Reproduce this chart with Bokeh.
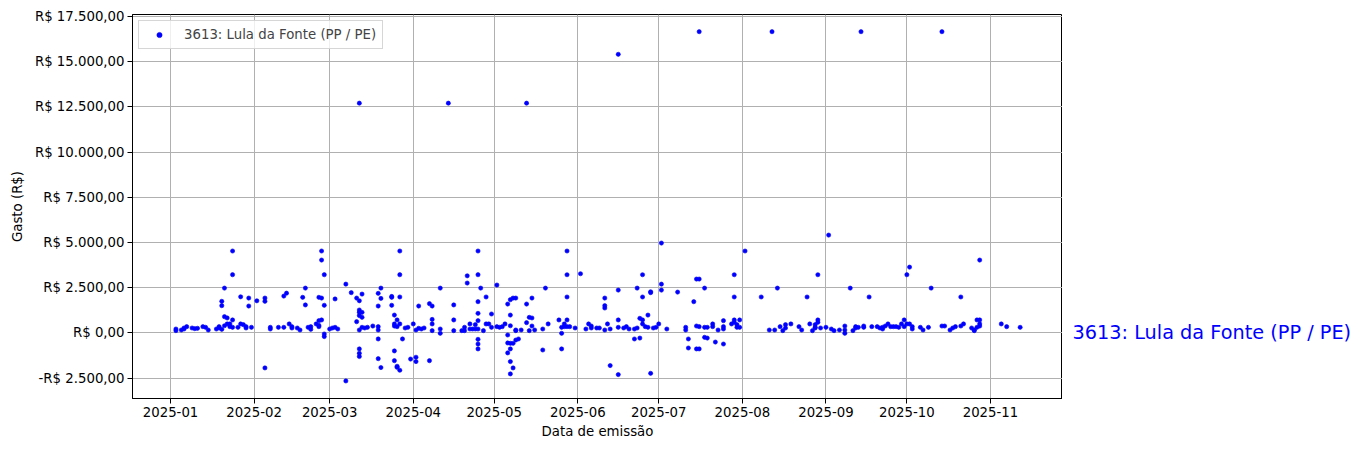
import pandas as pd
from bokeh.plotting import figure
from bokeh.layouts import row
from bokeh.models import (Range1d, FixedTicker, CustomJSTickFormatter, Legend,
                          LegendItem)
from bokeh.core.properties import value
from bokeh.embed import file_html
from bokeh.resources import INLINE

ANO = "2025"
SERIE = "3613: Lula da Fonte (PP / PE)"

jan_d = ["01-03", "01-03", "01-05", "01-06", "01-06", "01-07", "01-09", "01-10", "01-11", "01-13",
         "01-14", "01-15", "01-18", "01-19", "01-19", "01-20", "01-20", "01-20", "01-21", "01-21",
         "01-21", "01-22", "01-22", "01-23", "01-23", "01-24", "01-24", "01-24", "01-24", "01-26",
         "01-27", "01-27", "01-28", "01-29", "01-29", "01-30", "01-30", "01-31"]
jan_v = [220, 130, 165, 220, 276, 350, 276, 240, 258, 350,
         313, 165, 220, 276, 350, 200, 1510, 1750, 2480, 900,
         400, 830, 500, 500, 350, 720, 4530, 3220, 313, 313,
         2000, 500, 460, 350, 276, 1930, 1490, 313]

fev_d = ["02-02", "02-05", "02-05", "02-05", "02-07", "02-07", "02-10", "02-12", "02-12", "02-13",
         "02-14", "02-15", "02-15", "02-17", "02-18", "02-19", "02-20", "02-20", "02-21", "02-22",
         "02-22", "02-24", "02-25", "02-25", "02-25", "02-25", "02-26", "02-26", "02-26", "02-26",
         "02-27", "02-27", "02-27", "02-27"]
fev_v = [1780, 1930, 1750, -1930, 313, 220, 313, 313, 2040, 2200,
         500, 276, 350, 276, 165, 1970, 2480, 1550, 313, 200,
         350, 500, 350, 420, 680, 1970, 4530, 4030, 1930, 720,
         3220, 1530, -55, -200]

mar_d = ["03-01", "03-02", "03-03", "03-04", "03-03", "03-07", "03-07", "03-09", "03-11", "03-11",
         "03-12", "03-12", "03-12", "03-12", "03-12", "03-12", "03-12", "03-12", "03-12", "03-13",
         "03-13", "03-13", "03-13", "03-14", "03-15", "03-17", "03-19", "03-19", "03-19", "03-19",
         "03-19", "03-19", "03-20", "03-20", "03-20", "03-24", "03-24", "03-24", "03-25", "03-25",
         "03-25", "03-25", "03-25", "03-26", "03-26", "03-26", "03-26", "03-27", "03-27", "03-27",
         "03-27", "03-27", "03-28", "03-29", "03-30", "03-31"]
mar_v = [220, 276, 313, 220, 1880, 2700, -2650, 2230, 625, 1930,
         12700, 1780, 1270, 1140, 960, 165, -880, -1120, -1300, 865,
         1140, 2150, 313, 276, 313, 385, 350, 165, -330, -1420,
         1490, 2190, -1910, 2480, 1910, 1970, 2020, 1530, 990, 500,
         385, -990, -1530, 350, 720, -1840, -1900, 500, 4530, 3220,
         1990, -2060, -330, 276, 313, -1440]

abr_d = ["04-01", "04-02", "04-02", "04-02", "04-03", "04-03", "04-04", "04-05", "04-07", "04-07",
         "04-08", "04-08", "04-08", "04-08", "04-11", "04-11", "04-11", "04-14", "04-16", "04-16",
         "04-16", "04-19", "04-20", "04-20", "04-21", "04-21", "04-22", "04-22", "04-23", "04-24",
         "04-24", "04-25", "04-25", "04-25", "04-25", "04-25", "04-25", "04-25", "04-25", "04-25",
         "04-26", "04-27", "04-28", "04-28", "04-29", "04-30", "04-30"]
abr_v = [500, 165, -1340, -1580, 1490, 258, 220, 276, 1620, -1530,
         1490, 750, 500, 130, 220, -18, 2480, 12700, 1550, 720,
         130, 130, 130, 313, 2760, 3160, 500, 220, 220, 460,
         220, 680, 4530, 3220, -610, -350, 1085, 1730, -880, 220,
         2480, 130, 1990, 500, 500, 1050, 313]

mai_d = ["05-02", "05-02", "05-03", "05-04", "05-05", "05-06", "05-06", "05-06", "05-06", "05-07",
         "05-07", "05-07", "05-07", "05-07", "05-07", "05-07", "05-08", "05-08", "05-08", "05-09",
         "05-09", "05-09", "05-09", "05-10", "05-11", "05-13", "05-13", "05-13", "05-14", "05-14",
         "05-15", "05-15", "05-15", "05-16", "05-19", "05-19", "05-20", "05-21", "05-25", "05-26",
         "05-26", "05-26", "05-27", "05-27", "05-28", "05-28", "05-28", "05-28", "05-28", "05-29",
         "05-31"]
mai_v = [2650, 350, 313, 350, 500, 1600, -110, -550, -1100, 1840,
         990, 400, -570, -1580, -2260, -880, 1930, -570, -1930, -390,
         130, 1930, 165, -330, 165, 12700, 1600, 570, 865, 130,
         1930, 830, 385, 165, 220, -940, 2480, 500, 720, 313,
         -18, -880, 500, 350, 720, 4530, 3220, 1990, 350, 350,
         276]

jun_d = ["06-02", "06-04", "06-05", "06-06", "06-06", "06-08", "06-09", "06-11", "06-11", "06-11",
         "06-11", "06-12", "06-13", "06-13", "06-16", "06-16", "06-16", "06-16", "06-16", "06-18",
         "06-19", "06-20", "06-22", "06-22", "06-23", "06-23", "06-24", "06-24", "06-25", "06-25",
         "06-25", "06-25", "06-26", "06-27", "06-27", "06-28", "06-28", "06-28", "06-29", "06-30"]
jun_v = [3275, 220, 500, 385, 276, 276, 276, 1930, 1510, 1380,
         165, 500, 220, -1800, 15400, 720, 2370, 313, -2300, 276,
         350, 220, -330, 220, 2480, 276, 810, -280, 720, 3220,
         1990, 500, 350, 990, 313, 2230, 2280, -2230, 276, 313]

jul_d = ["07-01", "07-02", "07-02", "07-02", "07-04", "07-08", "07-11", "07-11", "07-12", "07-12",
         "07-14", "07-15", "07-15", "07-15", "07-16", "07-16", "07-16", "07-16", "07-18", "07-18",
         "07-18", "07-19", "07-19", "07-21", "07-21", "07-22", "07-23", "07-25", "07-25", "07-25",
         "07-25", "07-28", "07-29", "07-29", "07-29", "07-29", "07-30", "07-30", "07-31", "07-31"]
jul_v = [500, 4970, 2700, 2370, 220, 2260, 313, 165, -330, -830,
         1730, 2980, -880, 385, 2980, -880, 350, 16650, 2480, -240,
         313, 313, -280, 500, 350, -500, 165, 350, 680, -610,
         220, 500, 590, 3220, 1990, 720, 313, 460, 720, 313]

ago_d = ["08-02", "08-08", "08-11", "08-12", "08-13", "08-14", "08-15", "08-16", "08-17", "08-17",
         "08-19", "08-22", "08-23", "08-25", "08-26", "08-27", "08-28", "08-28", "08-28", "08-29",
         "08-29", "08-29", "08-30"]
ago_v = [4530, 1990, 165, 16650, 165, 2480, 350, 130, 460, 276,
         500, 350, 165, 1990, 500, 130, 276, 460, 313, 590,
         3220, 720, 276]

set_d = ["09-01", "09-02", "09-03", "09-04", "09-06", "09-08", "09-08", "09-08", "09-10", "09-11",
         "09-12", "09-12", "09-13", "09-14", "09-15", "09-15", "09-17", "09-18", "09-20", "09-21",
         "09-22", "09-22", "09-23", "09-24", "09-25", "09-26", "09-27", "09-28", "09-29", "09-30",
         "09-30"]
set_v = [313, 5410, 220, 130, 165, 385, -18, 165, 2480, 130,
         276, 350, 313, 16650, 385, 313, 1990, 350, 350, 276,
         220, 313, 385, 500, 350, 350, 350, 313, 500, 720,
         350]

out_d = ["10-01", "10-01", "10-02", "10-02", "10-03", "10-03", "10-06", "10-07", "10-09", "10-10",
         "10-14", "10-14", "10-15", "10-17", "10-18", "10-19", "10-21", "10-21", "10-22", "10-25",
         "10-26", "10-26", "10-27", "10-27", "10-28", "10-28", "10-28", "10-28"]
out_v = [500, 3220, 3640, 500, 350, 220, 313, 165, 313, 2480,
         385, 16650, 385, 165, 276, 350, 1990, 385, 500, 276,
         165, 130, 313, 720, 720, 500, 385, 4030]

nov_d = ["11-05", "11-07", "11-12"]
nov_v = [500, 350, 313]

y_ticks = [-2500, 0, 2500, 5000, 7500, 10000, 12500, 15000, 17500]
x_ticks = ["2025-01-01", "2025-02-01", "2025-03-01", "2025-04-01", "2025-05-01", "2025-06-01",
           "2025-07-01", "2025-08-01", "2025-09-01", "2025-10-01", "2025-11-01"]

dias = jan_d + fev_d + mar_d + abr_d + mai_d + jun_d + jul_d + ago_d + set_d + out_d + nov_d
valores = jan_v + fev_v + mar_v + abr_v + mai_v + jun_v + jul_v + ago_v + set_v + out_v + nov_v
datas = pd.to_datetime([ANO + "-" + d for d in dias])

x0 = pd.Timestamp("2025-01-01") - pd.Timedelta(days=14.1)
x1 = pd.Timestamp("2025-01-01") + pd.Timedelta(days=330.7)

FONT = "DejaVu Sans"
TOP, FH, BOT = 14, 384, 50

p = figure(x_axis_type="datetime", output_backend="svg", toolbar_location=None,
           frame_width=930, frame_height=FH,
           min_border_left=132, min_border_right=0, min_border_top=TOP, min_border_bottom=BOT,
           x_range=Range1d(x0, x1), y_range=Range1d(-3620, 17600))
p.background_fill_color = "white"
p.border_fill_color = "white"
p.outline_line_color = "black"
p.outline_line_width = 1

r = p.scatter(x=datas, y=valores, size=4.2, color="blue", line_color="blue", line_width=0.6)

p.xaxis.ticker = FixedTicker(ticks=[pd.Timestamp(t).value // 10**6 for t in x_ticks])
p.xaxis.formatter = CustomJSTickFormatter(code="""
const d = new Date(tick);
return d.getUTCFullYear() + '-' + String(d.getUTCMonth() + 1).padStart(2, '0');
""")
p.yaxis.ticker = FixedTicker(ticks=y_ticks)
p.yaxis.formatter = CustomJSTickFormatter(code="""
const neg = tick < 0;
const s = Math.abs(tick).toFixed(2).split('.');
const i = s[0].replace(/\\B(?=(\\d{3})+(?!\\d))/g, '.');
return (neg ? '-' : '') + 'R$ ' + i + ',' + s[1];
""")

for ax in (p.xaxis[0], p.yaxis[0]):
    ax.major_label_text_font = FONT
    ax.major_label_text_font_size = "13.3px"
    ax.major_label_text_color = "black"
    ax.axis_label_text_font = FONT
    ax.axis_label_text_font_size = "13.3px"
    ax.axis_label_text_font_style = "normal"
    ax.axis_label_text_color = "black"
    ax.axis_line_color = "black"
    ax.major_tick_line_color = "black"
    ax.major_tick_out = 5
    ax.major_tick_in = 0
    ax.minor_tick_line_color = None
    ax.major_label_standoff = 3

p.xaxis.axis_label = "Data de emissão"
p.yaxis.axis_label = "Gasto (R$)"
p.xaxis.axis_label_standoff = 4
p.yaxis.axis_label_standoff = 7

p.grid.grid_line_color = "#b0b0b0"
p.grid.grid_line_width = 1

legend = Legend(items=[LegendItem(label=SERIE, renderers=[r])], location="top_left")
legend.label_text_font = FONT
legend.label_text_font_size = "13.3px"
legend.padding = 6
legend.margin = 6
legend.glyph_width = 28
legend.glyph_height = 13
legend.label_height = 13
legend.label_standoff = 11
legend.border_line_color = "#cccccc"
legend.border_line_alpha = 0.8
legend.background_fill_alpha = 0.8
p.add_layout(legend)

# right-hand panel carrying the series name at the level of R$ 0,00
q = figure(output_backend="svg", toolbar_location=None,
           frame_width=292, frame_height=FH,
           min_border_left=0, min_border_right=0, min_border_top=TOP, min_border_bottom=BOT,
           x_range=Range1d(0, 292), y_range=p.y_range)
q.axis.visible = False
q.grid.visible = False
q.outline_line_color = None
q.background_fill_color = "white"
q.border_fill_color = "white"
q.text(x=[10], y=[0], text=[SERIE], text_color="blue", text_font=value(FONT),
       text_font_size="19.3px", text_baseline="middle", text_align="left")

layout = row(p, q, spacing=0)
open("out.html", "w").write(file_html(layout, INLINE))
